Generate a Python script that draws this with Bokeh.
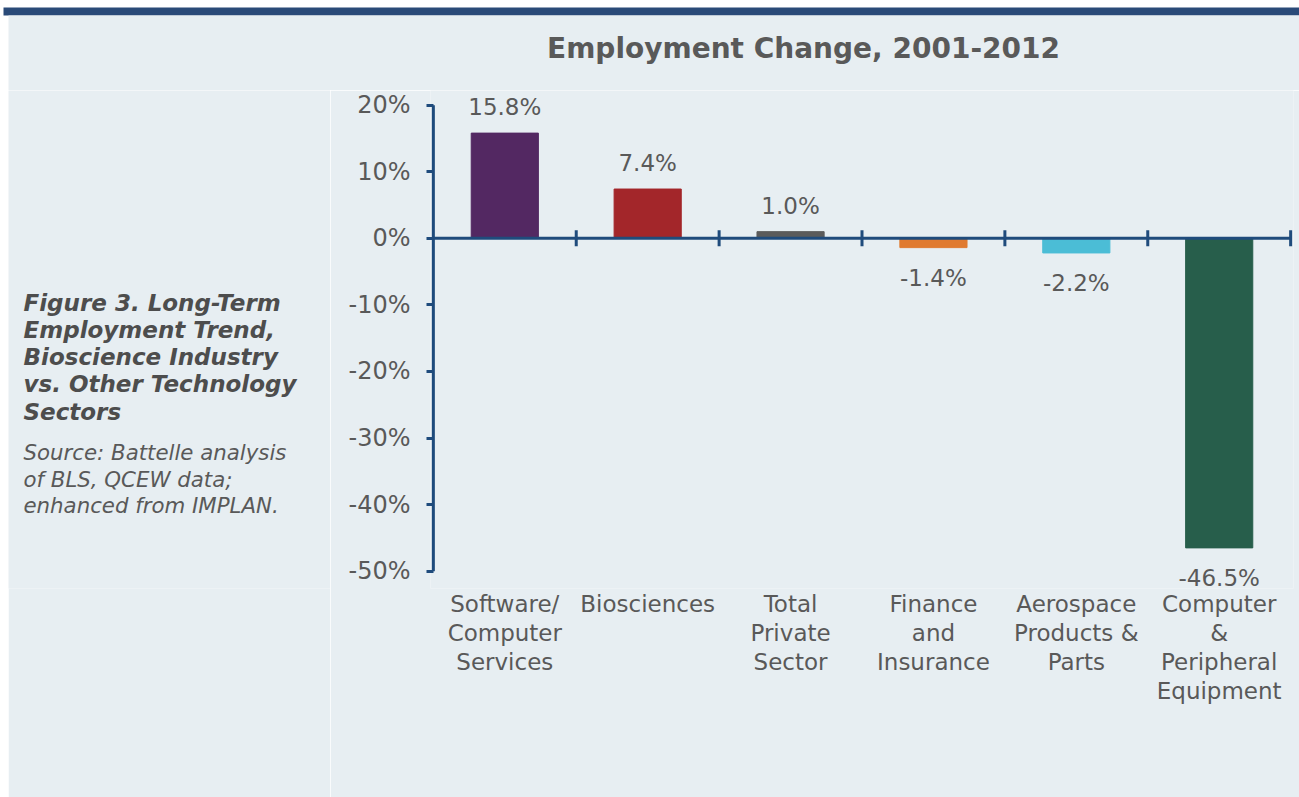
from bokeh.plotting import figure
from bokeh.layouts import row, column
from bokeh.models import Range1d, FixedTicker, ColumnDataSource, LabelSet
from bokeh.core.properties import value
from bokeh.embed import file_html
from bokeh.resources import INLINE

# ---- data ----
categories = ["Software/\nComputer\nServices", "Biosciences", "Total\nPrivate\nSector",
              "Finance\nand\nInsurance", "Aerospace\nProducts &\nParts",
              "Computer\n&\nPeripheral\nEquipment"]
values = [15.8, 7.4, 1.0, -1.4, -2.2, -46.5]
value_labels = ["15.8%", "7.4%", "1.0%", "-1.4%", "-2.2%", "-46.5%"]
bar_colors = ["#532862", "#a3262a", "#5b5b5b", "#e07a30", "#4bbdd6", "#275e4b"]
y_ticks = [20, 10, 0, -10, -20, -30, -40, -50]
y_tick_labels = ["20%", "10%", "0%", "-10%", "-20%", "-30%", "-40%", "-50%"]
title_text = "Employment Change, 2001-2012"
caption_lines = ["Figure 3. Long-Term", "Employment Trend,", "Bioscience Industry",
                 "vs. Other Technology", "Sectors"]
source_lines = ["Source: Battelle analysis", "of BLS, QCEW data;", "enhanced from IMPLAN."]

W, H = 1299, 797
HEAD = 90         # height of the header (band + title)
STRIP = 8         # white strip at the left
LEFT_W = 322      # width of the caption column
BG = "#e7eef2"
AXIS = "#1f4b7c"
TXT = "#595959"
FONT = "DejaVu Sans"
MB_BOT = 209
BODY_H = H - HEAD
FRAME_TOP_PAGE = HEAD
FRAME_BOT_PAGE = H - MB_BOT


def bare(fig, fill):
    fig.background_fill_color = fill
    fig.border_fill_color = fill
    fig.outline_line_color = None
    fig.grid.visible = False


# ---- header: band + title (page pixel coordinates) ----
head = figure(width=W, height=HEAD, output_backend="svg", toolbar_location=None,
              x_range=Range1d(0, W), y_range=Range1d(HEAD, 0),
              x_axis_type=None, y_axis_type=None, min_border=0)
bare(head, "white")
head.quad(left=[3], right=[W], top=[7], bottom=[15], fill_color="#2a4a78", line_color=None)
head.quad(left=[STRIP], right=[W], top=[15], bottom=[HEAD], fill_color=BG, line_color=None)
head.text(x=[803], y=[48], text=[title_text], text_font=value(FONT), text_font_size="28px",
          text_font_style="bold", text_color=TXT, text_align="center", text_baseline="middle")

# ---- white strip ----
strip = figure(width=STRIP, height=BODY_H, output_backend="svg", toolbar_location=None,
               x_axis_type=None, y_axis_type=None, min_border=0, min_border_bottom=MB_BOT)
bare(strip, "white")

# ---- left caption column (y in page pixels) ----
cap = figure(width=LEFT_W, height=BODY_H, output_backend="svg", toolbar_location=None,
             x_range=Range1d(STRIP, STRIP + LEFT_W),
             y_range=Range1d(FRAME_BOT_PAGE, FRAME_TOP_PAGE),
             x_axis_type=None, y_axis_type=None, min_border=0, min_border_bottom=MB_BOT)
bare(cap, BG)
cap.text(x=[23] * len(caption_lines), y=[302 + k * 27.3 for k in range(len(caption_lines))],
         text=caption_lines, text_font=value(FONT), text_font_size="23px",
         text_font_style="bold italic", text_color="#4d4d4d",
         text_align="left", text_baseline="middle")
cap.text(x=[23] * len(source_lines), y=[452 + k * 26.6 for k in range(len(source_lines))],
         text=source_lines, text_font=value(FONT), text_font_size="21.3px",
         text_font_style="italic", text_color=TXT,
         text_align="left", text_baseline="middle")

# ---- main chart ----
idx = list(range(len(values)))
src = ColumnDataSource(dict(
    x=idx, top=values, color=bar_colors, lbl=value_labels,
    off=[26 if v >= 0 else -30 for v in values],
))

p = figure(width=W - LEFT_W - STRIP, height=BODY_H, output_backend="svg", toolbar_location=None,
           x_range=Range1d(-0.52, 5.52), y_range=Range1d(-52.6, 22.2),
           min_border_left=100, min_border_right=6, min_border_top=0, min_border_bottom=MB_BOT)
bare(p, BG)

# bars
p.vbar(x="x", top="top", bottom=0, width=0.47, color="color", source=src)

# y axis line (drawn from -50% to 20%)
p.segment(x0=[-0.5], x1=[-0.5], y0=[min(y_ticks)], y1=[max(y_ticks)], line_color=AXIS, line_width=3)
# zero axis line with category dividers
p.segment(x0=[-0.5], x1=[5.5], y0=[0], y1=[0], line_color=AXIS, line_width=3)
div_x = [i + 0.5 for i in idx]
p.segment(x0=div_x, x1=div_x, y0=[-1.2] * len(div_x), y1=[1.2] * len(div_x),
          line_color=AXIS, line_width=3)

# value labels
p.add_layout(LabelSet(x="x", y="top", text="lbl", y_offset="off", source=src,
                      text_align="center", text_baseline="middle",
                      text_font=value(FONT), text_font_size="23px", text_color=TXT))

# y axis ticks & labels
ya = p.yaxis[0]
ya.ticker = FixedTicker(ticks=y_ticks)
ya.major_label_overrides = {t: l for t, l in zip(y_ticks, y_tick_labels)}
ya.axis_line_color = None
ya.major_tick_line_color = AXIS
ya.major_tick_line_width = 3
ya.major_tick_in = 3
ya.major_tick_out = 4
ya.minor_tick_line_color = None
ya.major_label_text_font = FONT
ya.major_label_text_font_size = "24px"
ya.major_label_text_color = TXT
ya.major_label_standoff = 16

# x axis (category labels only)
xa = p.xaxis[0]
xa.ticker = FixedTicker(ticks=idx)
xa.major_label_overrides = {i: c for i, c in zip(idx, categories)}
xa.axis_line_color = None
xa.major_tick_line_color = None
xa.minor_tick_line_color = None
xa.major_tick_in = 0
xa.major_tick_out = 0
xa.major_label_text_font = FONT
xa.major_label_text_font_size = "23px"
xa.major_label_text_color = TXT
xa.major_label_text_line_height = 1.12
xa.major_label_standoff = 2

layout = column(head, row(strip, cap, p, spacing=0), spacing=0)
open("out.html", "w").write(file_html(layout, INLINE))
